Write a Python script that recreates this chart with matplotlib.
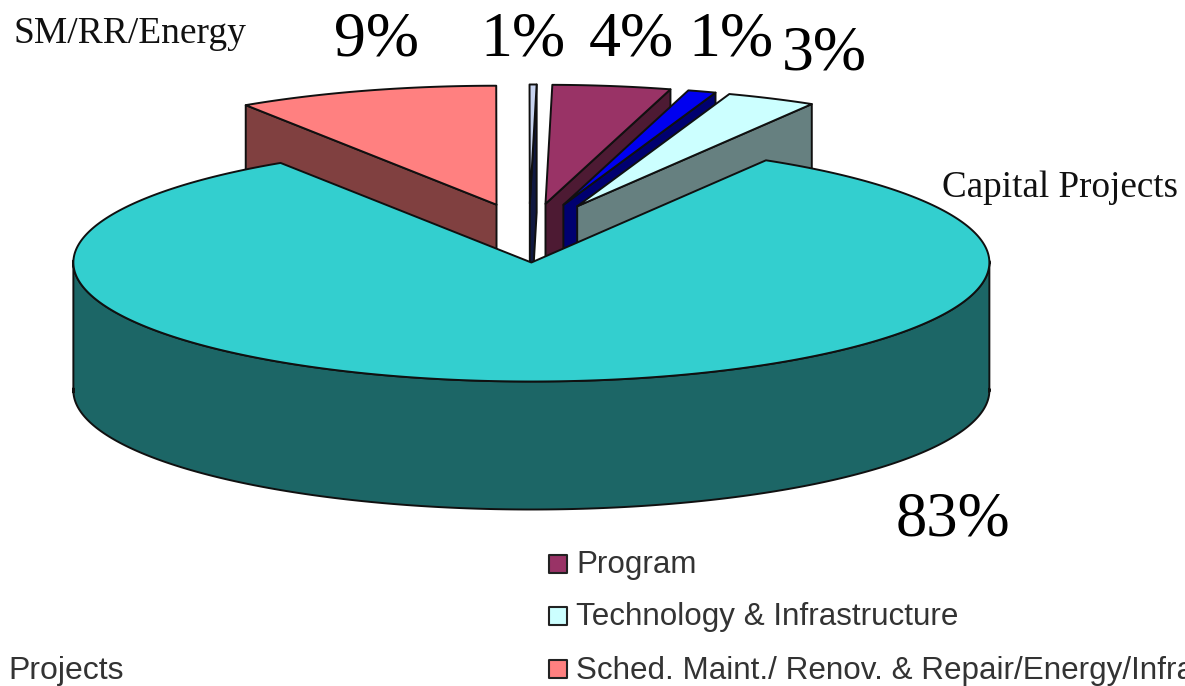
#!/usr/bin/env python3

# Exploded 3D style pie chart of budget shares

import numpy as np
import matplotlib
matplotlib.use("Agg")
import matplotlib.pyplot as plt
from matplotlib.patches import Polygon

# shares as drawn: the sliver labelled 1% is much thinner than 1% in the picture
slice_names = ["SM/RR/Energy", "Other", "Program", "Infrastructure", "Technology & Infrastructure", "Capital Projects"]
slice_shares = [9.3, 0.25, 4.2, 1.0, 3.2, 83.0]
top_colors = ["#ff8080", "#c8d4f0", "#993366", "#0000f0", "#ccffff", "#33cfcf"]
wall_colors = ["#804040", "#101840", "#4d1a33", "#000070", "#668080", "#1c6666"]

pct_labels = ["9%", "1%", "4%", "1%", "3%", "83%"]
legend_names = ["Program", "Technology & Infrastructure", "Sched. Maint./ Renov. & Repair/Energy/Infra"]
legend_colors = ["#993366", "#ccffff", "#ff8080"]

RX, RY = 458, 119
CX, CY = 529, 233
EXPLODE = 0.248
DEPTH = 128
START = -33.2  # degrees clockwise from the top


def point(px, py, deg):
    a = np.radians(deg)
    return px + RX * np.sin(a), py - RY * np.cos(a)


def draw_slice(ax, a0, a1, top, wall, front_edge):
    mid = (a0 + a1) / 2
    px, py = point(CX, CY, mid)
    px = CX + (px - CX) * EXPLODE
    py = CY + (py - CY) * EXPLODE
    angles = np.linspace(a0, a1, max(int(a1 - a0) * 2, 4))
    xs, ys = point(px, py, angles)

    if front_edge is not None:
        # the radial wall that faces the viewer
        ex, ey = point(px, py, front_edge)
        quad = [(px, py), (ex, ey), (ex, ey + DEPTH), (px, py + DEPTH)]
        ax.add_patch(Polygon(quad, closed=True, fc=wall, ec="#101010", lw=1.4, joinstyle="round"))
    else:
        # outer wall, only the lower half of the rim shows
        rim = np.radians(angles)
        front = np.cos(rim) <= 0.02
        bx, by = xs[front], ys[front]
        order = np.argsort(bx)
        bx, by = bx[order], by[order]
        wall_xy = np.column_stack([np.r_[bx, bx[::-1]], np.r_[by, by[::-1] + DEPTH]])
        ax.add_patch(Polygon(wall_xy, closed=True, fc=wall, ec="#101010", lw=1.4, joinstyle="round"))

    top_xy = np.column_stack([np.r_[px, xs], np.r_[py, ys]])
    ax.add_patch(Polygon(top_xy, closed=True, fc=top, ec="#101010", lw=1.4, joinstyle="round"))


fig = plt.figure(figsize=(11.85, 6.86), dpi=100)
ax = fig.add_axes([0, 0, 1, 1])
ax.set_xlim(0, 1185)
ax.set_ylim(686, 0)
ax.axis("off")

sweeps = np.array(slice_shares) / sum(slice_shares) * 360
ends = START + np.cumsum(sweeps)
starts = ends - sweeps

# back slices first, the big one goes on top of all their walls
draw_slice(ax, starts[0], ends[0], top_colors[0], wall_colors[0], starts[0])
for i in [1, 2, 3, 4]:
    draw_slice(ax, starts[i], ends[i], top_colors[i], wall_colors[i], ends[i])
draw_slice(ax, starts[5], ends[5], top_colors[5], wall_colors[5], None)

serif = "Liberation Serif"
ax.text(14, 43, slice_names[0], family=serif, fontsize=27, color="#111111", va="baseline")
ax.text(942, 197, slice_names[5], family=serif, fontsize=26.7, color="#111111", va="baseline")

pct_x = [376, 523, 631, 731, 824, 953]
pct_y = [55, 55, 55, 55, 70, 535]
pct_size = [46, 46, 46, 46, 46, 45]
for x, y, s, size in zip(pct_x, pct_y, pct_labels, pct_size):
    ax.text(x, y, s, family=serif, fontsize=size, color="black", ha="center", va="baseline")

sans = "Liberation Sans"
legend_y = [564, 616, 669]
for y, name, c in zip(legend_y, legend_names, legend_colors):
    ax.scatter([558], [y], marker="s", s=170, fc=c, ec="#222222", lw=1.5)
    ax.text(576, y + 1.5, name, family=sans, fontsize=22.6, color="#333333", va="center")
ax.text(8, 670.5, "Projects", family=sans, fontsize=23, color="#333333", va="center")

fig.savefig("out.png", dpi=100)
